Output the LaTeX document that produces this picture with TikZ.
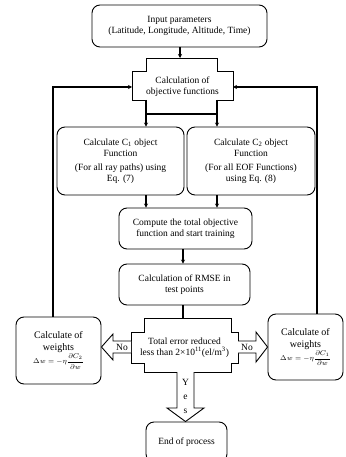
\documentclass[tikz,border=0pt]{standalone}
\usepackage{amsmath}
\usepackage{fontspec}
\setmainfont{Liberation Serif}
\usetikzlibrary{arrows.meta}

\tikzset{
  procbox/.style={draw, rounded corners=8pt, line width=0.9pt, align=center,
    inner sep=1pt, font=\fontsize{9.5}{11.5}\selectfont},
  plaintext/.style={align=center, inner sep=1pt, font=\fontsize{9.5}{11.5}\selectfont},
  shapeline/.style={draw, line width=0.9pt},
  flowline/.style={line width=1.5pt},
  flowarrow/.style={flowline, -{Stealth[length=4pt, width=4pt]}},
  blockarrow/.style={draw, line width=0.9pt, fill=white, line join=miter},
}

\begin{document}
\begin{tikzpicture}[x=1pt, y=-1pt]
  \useasboundingbox (0,0) rectangle (345,457);
  \def \objtop {58};
  \def \objmidtop {71};
  \def \objmidbot {100};
  \def \objbot {114};
  \def \objleft {132};
  \def \objright {233};
  \def \objnl {146};
  \def \objnr {217};
  \def \dectop {318};
  \def \decmidtop {332};
  \def \decmidbot {363};
  \def \decbot {372};
  \def \decleft {131};
  \def \decright {238};
  \def \decnl {144};
  \def \decnr {231};
  \def \looply {87};
  \def \arrowy {347};

  % Draw process boxes.
  \node[procbox, minimum width=175pt, minimum height=42pt] (input) at (179.5,26)
    {Input parameters\\(Latitude, Longitude, Altitude, Time)};
  \node[procbox, minimum width=127pt, minimum height=68pt] (c1) at (120.5,161)
    {Calculate C\textsubscript{1} object\\Function\\[2pt](For all ray paths) using\\Eq. (7)};
  \node[procbox, minimum width=128pt, minimum height=68pt] (c2) at (251,161)
    {Calculate C\textsubscript{2} object\\Function\\[2pt](For all EOF Functions)\\using Eq. (8)};
  \node[procbox, minimum width=133pt, minimum height=41pt] (comp) at (185.5,228.5)
    {Compute the total objective\\function and start training};
  \node[procbox, minimum width=131pt, minimum height=41pt] (rmse) at (184.5,284.5)
    {Calculation of RMSE in\\test points};
  \node[procbox, minimum width=85pt, minimum height=67pt, font=\fontsize{10}{12}\selectfont] (wleft) at (58.5,350.5)
    {Calculate of\\weights\\{\fontsize{7}{8}\selectfont$\Delta w=-\eta\dfrac{\partial C_2}{\partial w}$}};
  \node[procbox, minimum width=75pt, minimum height=66pt, font=\fontsize{10}{12}\selectfont] (wright) at (305.5,347)
    {Calculate of\\weights\\{\fontsize{7}{8}\selectfont$\Delta w=-\eta\dfrac{\partial C_1}{\partial w}$}};
  \node[procbox, minimum width=81pt, minimum height=40pt] (finish) at (186.5,442)
    {End of process};

  % Draw the objective and decision shapes.
  \draw[shapeline] (\objnl,\objtop) -- (\objnr,\objtop) -- (\objnr,\objmidtop)
    -- (\objright,\objmidtop) -- (\objright,\objmidbot) -- (\objnr,\objmidbot)
    -- (\objnr,\objbot) -- (\objnl,\objbot) -- (\objnl,\objmidbot)
    -- (\objleft,\objmidbot) -- (\objleft,\objmidtop) -- (\objnl,\objmidtop) -- cycle;
  \draw[flowline] (\objnl,\objbot) -- (\objnr,\objbot);
  \node[plaintext] (obj) at (182.5,86.5) {Calculation of\\objective functions};

  \draw[shapeline] (\decnl,\dectop) -- (\decnr,\dectop) -- (\decnr,\decmidtop)
    -- (\decright,\decmidtop) -- (\decright,\decmidbot) -- (\decnr,\decmidbot)
    -- (\decnr,\decbot) -- (\decnl,\decbot) -- (\decnl,\decmidbot)
    -- (\decleft,\decmidbot) -- (\decleft,\decmidtop) -- (\decnl,\decmidtop) -- cycle;
  \node[plaintext] (dec) at (184.5,347.5)
    {Total error reduced\\less than 2×10\textsuperscript{11}(el/m\textsuperscript{3})};

  % Named ends of the connectors.
  \coordinate (objn) at (180,\objtop);
  \coordinate (objw) at (\objleft,\looply);
  \coordinate (obje) at (\objright,\looply);
  \coordinate (objsw) at (\objnl,\objmidbot);
  \coordinate (objse) at (\objnr,\objmidbot);
  \coordinate (loopl) at (53,\looply);
  \coordinate (loopr) at (317,\looply);
  \coordinate (decn) at (183,\dectop);

  % Draw flow arrows.
  \draw[flowarrow] (input.south -| objn) -- (objn);
  \draw[flowarrow] (objsw) -- (objsw |- c1.north);
  \draw[flowarrow] (objse) -- (objse |- c2.north);
  \draw[flowarrow] (c1.south -| objsw) -- (objsw |- comp.north);
  \draw[flowarrow] (c2.south -| objse) -- (objse |- comp.north);
  \draw[flowarrow] (comp.south -| decn) -- (decn |- rmse.north);
  \draw[flowline] (rmse.south -| decn) -- (decn);
  \draw[flowarrow] (wleft.north -| loopl) |- (objw);
  \draw[flowarrow] (wright.north -| loopr) |- (obje);

  % Draw block arrows for No and Yes.
  \draw[blockarrow] (\decleft,{\arrowy-6}) -- (113,{\arrowy-6}) -- (113,{\arrowy-13})
    -- (wleft.east |- 0,\arrowy) -- (113,{\arrowy+13}) -- (113,{\arrowy+6}) -- (\decleft,{\arrowy+6});
  \draw[blockarrow] (\decright,{\arrowy-6}) -- (256,{\arrowy-6}) -- (256,{\arrowy-15})
    -- (wright.west |- 0,\arrowy) -- (256,{\arrowy+15}) -- (256,{\arrowy+6}) -- (\decright,{\arrowy+6});
  \node[plaintext] (noleft) at (122,\arrowy) {No};
  \node[plaintext] (noright) at (247,\arrowy) {No};

  \draw[blockarrow] (177,\decbot) -- (177,408) -- (167,408) -- (finish.north -| 185.5,0)
    -- (204,408) -- (194,408) -- (194,\decbot);
  \foreach \t/\y in {Y/382, e/397, s/411} {
    \node[plaintext] (yes\t) at (185.5,\y) {\t};
  };
\end{tikzpicture}
\end{document}
